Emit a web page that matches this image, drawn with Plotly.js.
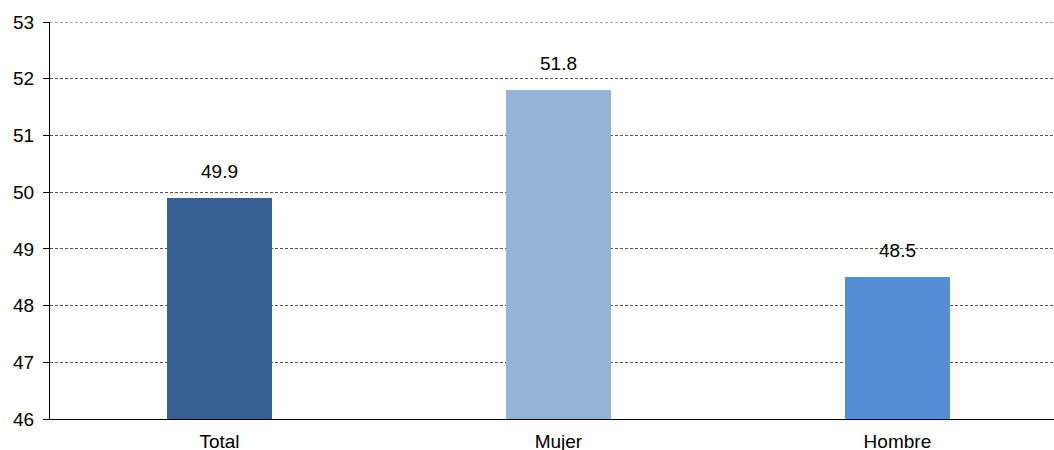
<!DOCTYPE html>
<html>
<head>
<meta charset="utf-8">
<script src="https://cdn.plot.ly/plotly-3.0.1.min.js"></script>
<style>
  html, body { margin: 0; padding: 0; background: #ffffff; }
  #chart { width: 1054px; height: 450px; }
</style>
</head>
<body>
<div id="chart"></div>
<script>
// Categories, values and bar colours
const categories = ["Total", "Mujer", "Hombre"];
const values = [49.9, 51.8, 48.5];
const barColors = ["#366092", "#95B3D7", "#558ED5"];
const yTicks = [46, 47, 48, 49, 50, 51, 52, 53];
const yMin = 46;
const yMax = 53;

const FONT = "Liberation Sans, Arial, sans-serif";

const trace = {
  type: "bar",
  x: categories,
  y: values,
  width: 0.31,
  marker: { color: barColors, line: { width: 0 } },
  hoverinfo: "none"
};

// Value labels above each bar
const labels = categories.map((c, i) => ({
  x: c,
  y: values[i],
  xref: "x",
  yref: "y",
  text: values[i].toFixed(1),
  showarrow: false,
  yanchor: "bottom",
  yshift: 14,
  font: { family: FONT, size: 19, color: "#000000" }
}));

// Dashed rule along the top of the value range
const topRule = {
  type: "line",
  xref: "paper",
  yref: "y",
  x0: 0,
  x1: 1,
  y0: yMax,
  y1: yMax,
  line: { color: "#555555", width: 1, dash: "3px,2px" },
  layer: "below"
};

const layout = {
  width: 1054,
  height: 450,
  margin: { l: 50, r: 0, t: 22, b: 31 },
  paper_bgcolor: "#ffffff",
  plot_bgcolor: "#ffffff",
  showlegend: false,
  bargap: 0,
  font: { family: FONT, size: 19, color: "#000000" },
  annotations: labels,
  shapes: [topRule],
  xaxis: {
    type: "category",
    range: [-0.5, 2.462],
    showline: true,
    linecolor: "#000000",
    linewidth: 1,
    ticks: "",
    showgrid: false,
    zeroline: false,
    ticklabelstandoff: 5,
    tickfont: { size: 19 }
  },
  yaxis: {
    range: [yMin, yMax],
    tickvals: yTicks,
    ticktext: yTicks.map(String),
    showline: true,
    linecolor: "#000000",
    linewidth: 1,
    ticks: "outside",
    ticklen: 6,
    tickcolor: "#000000",
    ticklabelstandoff: 5,
    showgrid: true,
    gridcolor: "#555555",
    gridwidth: 1,
    griddash: "3px,2px",
    zeroline: false,
    tickfont: { size: 19 }
  }
};

Plotly.newPlot("chart", [trace], layout, { staticPlot: true, displayModeBar: false });
</script>
</body>
</html>
